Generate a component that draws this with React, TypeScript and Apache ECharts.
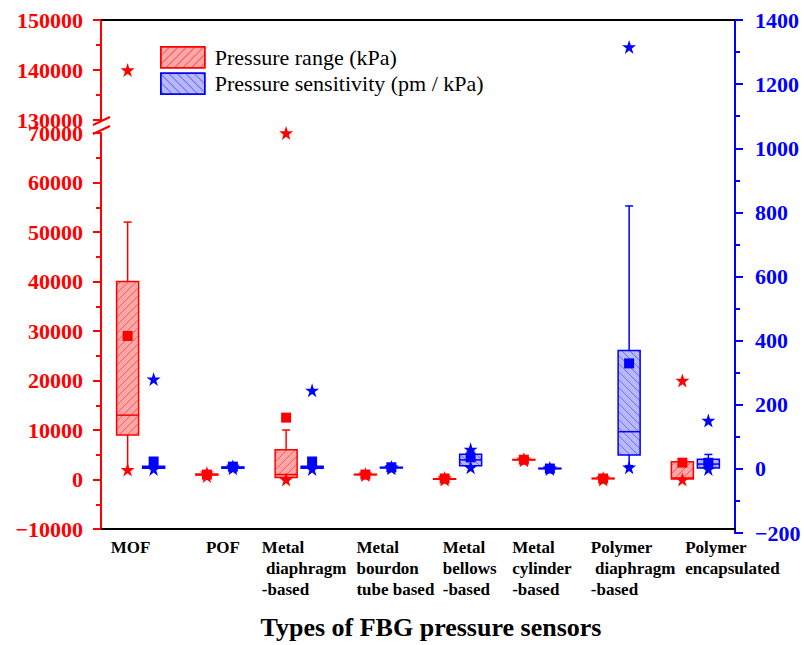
import React, { useEffect, useRef } from 'react';
import * as echarts from 'echarts';

// ---------- data ----------
const categories = [
  'MOF',
  'POF',
  'Metal diaphragm-based',
  'Metal bourdon tube based',
  'Metal bellows-based',
  'Metal cylinder-based',
  'Polymer diaphragm-based',
  'Polymer encapsulated',
];
const categoryLabelLines = [
  ['MOF'],
  ['POF'],
  ['Metal', ' diaphragm', '-based'],
  ['Metal', 'bourdon', 'tube based'],
  ['Metal', 'bellows', '-based'],
  ['Metal', 'cylinder', '-based'],
  ['Polymer', ' diaphragm', '-based'],
  ['Polymer', 'encapsulated'],
];

// Pressure range (kPa)
const rangeWhiskerLow = [2000, 800, 0, 900, 50, 3900, 100, 0];
const rangeQ1 = [9000, 900, 400, 950, 80, 3950, 150, 100];
const rangeMedian = [13000, 1000, 1000, 1000, 100, 4000, 200, 300];
const rangeQ3 = [40000, 1100, 6000, 1050, 150, 4050, 250, 3600];
const rangeWhiskerHigh = [52000, 1200, 10000, 1100, 200, 4100, 300, 3600];
const rangeMean = [29000, 1000, 12500, 1000, 200, 4000, 200, 3400];
const rangeMin = [2000, 700, 0, 900, 0, 3900, 0, 0];
const rangeMax = [140000, 1300, 70000, 1100, 300, 4100, 300, 20000];

// Pressure sensitivity (pm / kPa)
const sensWhiskerLow = [1, 1, 1, 2, 5, 0, 10, 2];
const sensQ1 = [2, 2, 2, 3, 10, 0.5, 43, 3];
const sensMedian = [4, 4, 4, 4, 28, 1, 116, 15];
const sensQ3 = [8, 6, 8, 5, 46, 2, 369, 30];
const sensWhiskerHigh = [12, 8, 12, 6, 55, 3, 820, 45];
const sensMean = [23, 7, 23, 5, 36, 1, 329, 19];
const sensMin = [0, 2, 0, 2, 5, 0, 5, 0];
const sensMax = [280, 8, 245, 6, 61, 3, 1316, 151];

// axis tick settings
const leftLowerTicks = { min: -10000, max: 70000, interval: 10000 };
const leftUpperTicks = { min: 130000, max: 150000, interval: 10000 };
const rightTicks = { min: -200, max: 1400, interval: 200 };

// ---------- styles ----------
const SERIF = '"Liberation Serif", "Times New Roman", Times, serif';
const RED = '#ff0000';
const BLUE = '#0000ff';
const OFFSET = 13;
const BOX_W = 22;
const CAP_HALF = 4;
const labelShift = [-10, 3, 5, 17, 12, 5, 17, 37];
const STAR =
  'path://M50,0 L61.2,34.5 L97.6,34.5 L68.2,55.9 L79.4,90.5 L50,69.1 L20.6,90.5 L31.8,55.9 L2.4,34.5 L38.8,34.5 Z';

function makeBoxRenderer(side: number, stroke: string, fill: string, hatch: string) {
  return (params: any, api: any) => {
    const idx = api.value(0);
    const ys = [1, 2, 3, 4, 5].map((k) => api.coord([idx, api.value(k)])[1]);
    const [yWL, yQ1, yMed, yQ3, yWH] = ys;
    const cx = api.coord([idx, 0])[0] + side * OFFSET;
    const hw = BOX_W / 2;
    const x0 = cx - hw;
    const x1 = cx + hw;
    const y0 = Math.min(yQ1, yQ3);
    const y1 = Math.max(yQ1, yQ3);
    const children: any[] = [];
    children.push({
      type: 'rect',
      shape: { x: x0, y: y0, width: x1 - x0, height: y1 - y0 },
      style: { fill, stroke: 'none' },
    });
    const step = 8;
    if (y1 - y0 > 2) {
      if (side < 0) {
        for (let c = x0 + y0 + step / 2; c < x1 + y1; c += step) {
          const xa = Math.max(x0, c - y1);
          const xb = Math.min(x1, c - y0);
          if (xb > xa)
            children.push({
              type: 'line',
              shape: { x1: xa, y1: c - xa, x2: xb, y2: c - xb },
              style: { stroke: hatch, lineWidth: 1 },
            });
        }
      } else {
        for (let c = x0 - y1 + step / 2; c < x1 - y0; c += step) {
          const xa = Math.max(x0, c + y0);
          const xb = Math.min(x1, c + y1);
          if (xb > xa)
            children.push({
              type: 'line',
              shape: { x1: xa, y1: xa - c, x2: xb, y2: xb - c },
              style: { stroke: hatch, lineWidth: 1 },
            });
        }
      }
    }
    children.push({
      type: 'rect',
      shape: { x: x0, y: y0, width: x1 - x0, height: Math.max(y1 - y0, 0.5) },
      style: { fill: 'none', stroke, lineWidth: 1.5 },
    });
    children.push({
      type: 'line',
      shape: { x1: x0, y1: yMed, x2: x1, y2: yMed },
      style: { stroke, lineWidth: 1.5 },
    });
    if (Math.abs(yWH - y0) > 1) {
      children.push({ type: 'line', shape: { x1: cx, y1: y0, x2: cx, y2: yWH }, style: { stroke, lineWidth: 1.5 } });
      children.push({
        type: 'line',
        shape: { x1: cx - CAP_HALF, y1: yWH, x2: cx + CAP_HALF, y2: yWH },
        style: { stroke, lineWidth: 1.5 },
      });
    }
    if (Math.abs(yWL - y1) > 1) {
      children.push({ type: 'line', shape: { x1: cx, y1: y1, x2: cx, y2: yWL }, style: { stroke, lineWidth: 1.5 } });
      children.push({
        type: 'line',
        shape: { x1: cx - CAP_HALF, y1: yWL, x2: cx + CAP_HALF, y2: yWL },
        style: { stroke, lineWidth: 1.5 },
      });
    }
    return { type: 'group', children };
  };
}

function valueAxis(gridIndex: number, position: string, ticks: any, color: string, margin: number) {
  return {
    gridIndex,
    type: 'value',
    position,
    min: ticks.min,
    max: ticks.max,
    interval: ticks.interval,
    axisLine: { show: true, onZero: false, lineStyle: { color, width: 2 } },
    axisTick: { show: true, length: 8, lineStyle: { color, width: 2 } },
    minorTick: { show: true, splitNumber: 2, length: 5, lineStyle: { color, width: 2 } },
    axisLabel: {
      color,
      fontFamily: SERIF,
      fontWeight: 'bold',
      fontSize: 22,
      margin,
      formatter: (v: number) => (v < 0 ? '\u2212' + String(-v) : String(v)),
    },
    splitLine: { show: false },
  };
}

function scatter(
  name: string,
  xi: number,
  yi: number,
  symbol: string,
  size: number,
  dx: number,
  color: string,
  data: any[],
  z: number
) {
  return {
    name,
    type: 'scatter',
    xAxisIndex: xi,
    yAxisIndex: yi,
    symbol,
    symbolSize: size,
    symbolOffset: [dx, 0],
    itemStyle: { color, opacity: 1 },
    emphasis: { disabled: true },
    data,
    z,
  };
}

export default function App() {
  const ref = useRef<HTMLDivElement>(null);
  useEffect(() => {
    if (!ref.current) return;
    const chart = echarts.init(ref.current, undefined, { renderer: 'svg' });
    const rich: any = {};
    labelShift.forEach((s, i) => {
      rich['c' + i] = {
        fontFamily: SERIF,
        fontWeight: 'bold',
        fontSize: 17,
        lineHeight: 21,
        color: '#000',
        align: 'left',
        padding: s >= 0 ? [0, 0, 0, 2 * s] : [0, -2 * s, 0, 0],
      };
    });
    const idxPairs = (arr: number[], keep: (v: number) => boolean) =>
      arr.map((v, i) => (keep(v) ? [i, v] : [i, null]));
    const grids = [
      { left: 101, right: 69, top: 133, bottom: 112 },
      { left: 101, right: 69, top: 20, height: 100 },
      { left: 101, right: 69, top: 20, bottom: 112 },
    ];
    const option: any = {
      animation: false,
      backgroundColor: '#fff',
      grid: grids,
      legend: {
        orient: 'vertical',
        left: 155,
        top: 41,
        itemWidth: 44,
        itemHeight: 21,
        itemGap: 4,
        selectedMode: false,
        textStyle: { fontFamily: SERIF, fontSize: 22, color: '#000', padding: [0, 0, 0, 5] },
        data: [
          {
            name: 'Pressure range (kPa)',
            icon: 'rect',
            itemStyle: {
              color: 'rgba(255,0,0,0.35)',
              borderColor: RED,
              borderWidth: 1.5,
              decal: {
                symbol: 'rect',
                symbolSize: 1,
                dashArrayX: [1, 0],
                dashArrayY: [1, 5],
                rotation: -Math.PI / 4,
                color: 'rgba(220,0,0,0.45)',
              },
            },
          },
          {
            name: 'Pressure sensitivity (pm / kPa)',
            icon: 'rect',
            itemStyle: {
              color: 'rgba(0,0,255,0.28)',
              borderColor: BLUE,
              borderWidth: 1.5,
              decal: {
                symbol: 'rect',
                symbolSize: 1,
                dashArrayX: [1, 0],
                dashArrayY: [1, 5],
                rotation: Math.PI / 4,
                color: 'rgba(0,0,200,0.4)',
              },
            },
          },
        ],
      },
      xAxis: [
        {
          gridIndex: 0,
          type: 'category',
          data: categories,
          axisLine: { onZero: false, lineStyle: { color: '#000', width: 2 } },
          axisTick: { inside: true, alignWithLabel: true, length: 8, lineStyle: { color: '#000', width: 2 } },
          axisLabel: {
            interval: 0,
            margin: 8,
            formatter: (v: string, i: number) =>
              categoryLabelLines[i].map((l) => `{c${i}|${l}}`).join('\n'),
            rich,
          },
          name: 'Types of FBG pressure sensors',
          nameLocation: 'middle',
          nameGap: 85,
          nameTextStyle: {
            fontFamily: SERIF,
            fontWeight: 'bold',
            fontSize: 26,
            color: '#000',
            padding: [0, 0, 0, 26],
          },
        },
        {
          gridIndex: 1,
          type: 'category',
          data: categories,
          position: 'top',
          axisLine: { onZero: false, lineStyle: { color: '#000', width: 2 } },
          axisTick: { show: false },
          axisLabel: { show: false },
        },
        { gridIndex: 2, type: 'category', data: categories, show: false },
      ],
      yAxis: [
        valueAxis(0, 'left', leftLowerTicks, RED, 18),
        valueAxis(1, 'left', leftUpperTicks, RED, 18),
        valueAxis(2, 'right', rightTicks, BLUE, 20),
      ],
      graphic: [
        { type: 'line', shape: { x1: 93, y1: 125, x2: 110, y2: 117 }, style: { stroke: RED, lineWidth: 2 } },
        { type: 'line', shape: { x1: 93, y1: 134, x2: 110, y2: 126 }, style: { stroke: RED, lineWidth: 2 } },
      ],
      series: [
        {
          name: 'Pressure range (kPa)',
          type: 'custom',
          xAxisIndex: 0,
          yAxisIndex: 0,
          itemStyle: { color: RED },
          renderItem: makeBoxRenderer(-1, RED, 'rgba(255,0,0,0.35)', 'rgba(220,0,0,0.45)'),
          encode: { x: 0, y: [1, 2, 3, 4, 5] },
          data: categories.map((_, i) => [
            i,
            rangeWhiskerLow[i],
            rangeQ1[i],
            rangeMedian[i],
            rangeQ3[i],
            rangeWhiskerHigh[i],
          ]),
          z: 2,
        },
        {
          name: 'Pressure sensitivity (pm / kPa)',
          type: 'custom',
          xAxisIndex: 2,
          yAxisIndex: 2,
          itemStyle: { color: BLUE },
          renderItem: makeBoxRenderer(1, BLUE, 'rgba(0,0,255,0.28)', 'rgba(0,0,200,0.4)'),
          encode: { x: 0, y: [1, 2, 3, 4, 5] },
          data: categories.map((_, i) => [
            i,
            sensWhiskerLow[i],
            sensQ1[i],
            sensMedian[i],
            sensQ3[i],
            sensWhiskerHigh[i],
          ]),
          z: 2,
        },
        scatter('range mean', 0, 0, 'rect', 10, -OFFSET, RED, rangeMean.map((v, i) => [i, v]), 4),
        scatter('range min', 0, 0, STAR, 14, -OFFSET, RED, idxPairs(rangeMin, (v) => v <= 70000), 5),
        scatter('range max', 0, 0, STAR, 14, -OFFSET, RED, idxPairs(rangeMax, (v) => v <= 70000), 5),
        scatter('range max upper', 1, 1, STAR, 14, -OFFSET, RED, idxPairs(rangeMax, (v) => v >= 130000), 5),
        scatter('sens mean', 2, 2, 'rect', 10, OFFSET, BLUE, sensMean.map((v, i) => [i, v]), 4),
        scatter('sens min', 2, 2, STAR, 14, OFFSET, BLUE, sensMin.map((v, i) => [i, v]), 5),
        scatter('sens max', 2, 2, STAR, 14, OFFSET, BLUE, sensMax.map((v, i) => [i, v]), 5),
      ],
    };
    chart.setOption(option);
    return () => chart.dispose();
  }, []);
  return (
    <div
      ref={ref}
      style={{ position: 'absolute', left: 0, top: 0, width: 804, height: 645, background: '#fff' }}
    />
  );
}
